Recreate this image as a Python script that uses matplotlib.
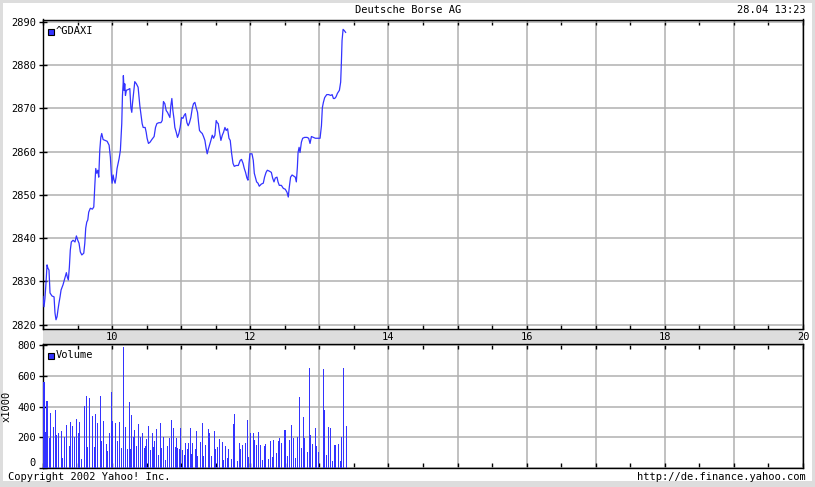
import matplotlib
matplotlib.use('Agg')
import matplotlib.pyplot as plt
import matplotlib.ticker as mticker
from matplotlib.patches import Rectangle
import numpy as np

W, H = 815, 487
BLUE = '#3333ff'
GRID = '#b0b0b0'
BAND = '#dddddd'
FONT = 'DejaVu Sans Mono'

# ^GDAXI intraday, minutes after 9:00 and index level
price_min = [0, 0.9, 1.7, 2.6, 3.5, 4.3, 5.2, 6.1, 7.8, 9.6, 10.4, 11.3, 12.2, 13.0, 13.9, 14.8,
             15.7, 17.4, 19.1, 20.3, 21.1, 22.0, 22.9, 23.7, 24.6, 26.1, 27.8, 29.0, 30.2, 31.3,
             32.4, 33.7, 35.4, 36.3, 37.1, 38.0, 38.9, 39.7, 41.1, 42.9, 44.1, 45.0, 45.8, 46.7,
             47.6, 48.4, 49.3, 50.2, 51.0, 52.2, 53.9, 55.7, 57.4, 58.5, 59.4, 60.0, 60.9, 61.7,
             62.6, 63.5, 64.3, 66.1, 67.2, 68.4, 69.0, 69.6, 69.8, 70.4, 71.0, 71.6, 72.4, 74.2,
             75.4, 76.3, 77.1, 77.7, 78.9, 79.7, 81.1, 82.6, 84.1, 85.2, 86.1, 87.0, 88.7, 89.6,
             90.4, 91.6, 93.0, 94.5, 96.5, 97.7, 98.9, 100.6, 102.4, 103.5, 104.6, 105.8, 107.0,
             108.1, 109.3, 110.2, 111.0, 111.9, 112.8, 113.7, 114.5, 115.7, 116.8, 118.0, 119.1,
             120.3, 121.5, 122.6, 123.7, 125.0, 126.1, 127.2, 128.4, 129.6, 130.7, 131.9, 133.0,
             134.2, 135.1, 135.9, 137.1, 138.3, 139.4, 140.6, 141.7, 142.6, 143.5, 144.6, 145.8,
             147.0, 148.1, 149.3, 150.4, 151.3, 152.2, 153.3, 154.5, 155.7, 156.8, 158.0, 159.1,
             160.3, 161.5, 162.6, 163.7, 165.0, 166.1, 167.8, 169.6, 171.3, 172.4, 173.7, 174.8,
             175.9, 177.1, 178.0, 178.9, 179.7, 181.5, 182.6, 183.5, 184.4, 185.5, 186.7, 187.8,
             189.6, 191.3, 192.4, 193.7, 194.8, 196.5, 198.3, 199.4, 200.6, 201.7, 203.2, 204.1,
             205.2, 207.0, 208.7, 210.4, 211.9, 213.0, 213.9, 215.0, 216.3, 218.0, 219.1, 220.0,
             220.9, 221.5, 222.4, 223.2, 224.4, 225.5, 227.2, 229.3, 230.7, 231.9, 233.1, 234.8,
             236.5, 238.9, 240.6, 241.8, 242.6, 243.5, 244.6, 246.4, 248.1, 249.9, 251.1, 252.2,
             253.3, 254.5, 255.7, 257.4, 258.5, 259.1, 259.7, 260.6, 261.7, 262.8]
price_val = [2826.5, 2824.1, 2826.1, 2829.6, 2833.8, 2833.0, 2832.6, 2827.3, 2826.6, 2826.4, 2822.7,
             2821.1, 2821.8, 2823.4, 2825.0, 2826.4, 2828.0, 2829.2, 2830.8, 2832.0, 2831.0, 2830.3,
             2833.3, 2837.2, 2839.1, 2839.5, 2839.1, 2840.5, 2839.5, 2838.8, 2836.8, 2836.1, 2836.5,
             2838.8, 2842.3, 2843.7, 2844.2, 2846.0, 2846.9, 2846.7, 2847.2, 2852.2, 2856.1, 2855.0,
             2855.7, 2854.1, 2860.3, 2863.3, 2864.2, 2862.8, 2862.6, 2862.4, 2861.5, 2858.7, 2854.6,
             2852.7, 2854.6, 2853.4, 2852.7, 2854.1, 2856.1, 2858.4, 2860.3, 2866.5, 2873.0, 2875.7,
             2877.6, 2874.2, 2875.7, 2873.0, 2874.2, 2874.4, 2874.6, 2870.2, 2869.1, 2871.1, 2874.2,
             2876.2, 2875.7, 2874.9, 2870.6, 2868.4, 2866.5, 2865.6, 2865.6, 2864.5, 2863.1, 2861.9,
             2862.2, 2862.8, 2863.5, 2865.6, 2866.5, 2866.7, 2866.7, 2867.2, 2871.6, 2871.1, 2869.5,
             2869.1, 2868.4, 2867.9, 2870.6, 2872.3, 2869.5, 2867.7, 2865.6, 2864.5, 2863.3, 2864.2,
             2865.6, 2867.9, 2867.7, 2868.4, 2868.8, 2866.7, 2866.0, 2866.7, 2867.9, 2870.0, 2871.1,
             2871.4, 2870.2, 2869.1, 2866.7, 2864.9, 2864.5, 2864.2, 2863.5, 2862.6, 2860.7, 2859.5,
             2860.5, 2861.5, 2862.6, 2863.8, 2863.1, 2863.8, 2867.2, 2866.7, 2866.5, 2864.5, 2862.6,
             2863.8, 2864.5, 2865.6, 2864.9, 2865.3, 2863.1, 2862.6, 2859.8, 2857.3, 2856.6, 2856.8,
             2856.8, 2858.0, 2858.2, 2857.3, 2856.1, 2855.2, 2853.9, 2853.4, 2857.3, 2859.5, 2859.5,
             2858.0, 2855.0, 2854.1, 2853.0, 2852.7, 2852.0, 2852.5, 2852.7, 2854.1, 2855.2, 2855.7,
             2855.5, 2855.2, 2853.9, 2853.0, 2853.9, 2854.1, 2853.0, 2852.2, 2852.2, 2851.5, 2851.3,
             2850.6, 2849.5, 2851.8, 2854.1, 2854.6, 2854.3, 2854.1, 2853.0, 2856.4, 2859.8, 2861.0,
             2859.8, 2862.2, 2863.1, 2863.3, 2863.3, 2863.1, 2861.9, 2863.5, 2863.3, 2863.1, 2863.1,
             2863.1, 2866.0, 2870.2, 2871.4, 2872.5, 2873.2, 2873.2, 2873.0, 2873.2, 2872.3, 2872.3,
             2872.7, 2873.5, 2874.2, 2876.1, 2880.4, 2885.7, 2888.3, 2888.0, 2887.6]

# volume (x1000), minutes after 9:00
vol_min = [0.9, 2.0, 3.5, 5.5, 6.4, 9.0, 10.7, 11.6, 13.3, 15.9, 16.8, 18.6, 20.3, 22.9, 23.8,
           25.5, 27.3, 29.0, 30.7, 31.6, 33.3, 35.9, 37.7, 38.6, 40.3, 42.9, 44.9, 45.5, 47.5,
           49.9, 50.7, 52.8, 55.4, 56.2, 58.0, 59.7, 60.6, 63.2, 64.6, 66.7, 68.4, 69.9, 71.3,
           73.1, 75.1, 76.0, 76.8, 78.3, 79.7, 81.2, 82.9, 84.7, 86.1, 87.8, 89.0, 89.9, 91.6,
           93.3, 94.8, 96.0, 97.1, 98.9, 100.0, 102.0, 102.9, 104.7, 106.4, 108.1, 109.6, 111.6,
           113.1, 114.8, 116.0, 117.1, 118.6, 119.7, 121.5, 122.6, 123.8, 125.5, 126.7, 127.8,
           129.0, 130.2, 132.2, 133.6,
           134.5, 136.9, 138.6, 139.5, 141.2, 143.8, 144.7, 146.4, 149.0, 149.9, 151.7, 153.4,
           156.0, 156.9, 158.6, 160.4, 161.2, 163.8, 165.6, 166.4, 169.1, 170.8, 171.7, 173.4,
           176.0, 177.8, 178.6, 180.4, 183.0, 183.9, 185.6, 187.3, 189.1, 190.8, 192.5, 193.4,
           196.0, 197.8, 199.5, 200.4, 203.0, 204.7, 205.6, 207.3, 210.0, 210.8, 212.6, 214.3,
           216.0, 217.8, 219.5, 221.3, 223.0, 224.7, 226.5, 227.4, 230.0, 231.7, 232.6, 234.3,
           236.9, 237.8, 239.5, 243.9, 244.7, 246.5, 248.2, 250.0, 251.7, 253.4, 254.3, 256.9,
           258.6, 259.5, 261.3, 263.9]
vol_val = [563, 237, 437, 198, 361, 265, 378, 215, 226, 243, 67, 202, 280, 143, 302,
           274, 202, 319, 230, 302, 59, 404, 469, 137, 456, 337, 137, 352, 296,
           469, 176, 306, 156, 113, 230, 493, 306, 293, 176, 300, 130, 791, 265,
           126, 430, 126, 345, 204, 250, 143, 285, 204, 228, 128, 146, 189, 274,
           119, 230, 139, 178, 256, 85, 291, 128, 200, 52, 146, 193, 311,
           263, 137, 193, 130, 122, 261, 117, 83, 165, 124, 161, 261,
           91, 165, 122, 243,
           78, 169, 293, 78, 150, 254, 228, 78, 241, 124, 137, 189,
           169, 52, 143, 65, 124, 59, 287, 352, 46, 163, 124, 150,
           163, 313, 72, 228, 228, 183, 150, 235, 150, 52, 143, 156,
           59, 176, 72, 183, 98, 176, 196, 163, 248, 248, 78, 183,
           280, 196, 65, 202, 463, 130, 332, 196, 104, 652, 215, 156,
           261, 143, 104, 645, 378, 85, 267, 261, 46, 150, 150, 156,
           46, 202, 652, 274]

price_ticks = [2820, 2830, 2840, 2850, 2860, 2870, 2880, 2890]
vol_ticks = [0, 200, 400, 600, 800]
hour_labels = [10, 12, 14, 16, 18, 20]

title = 'Deutsche Borse AG'
stamp = '28.04 13:23'
copyright_txt = 'Copyright 2002 Yahoo! Inc.'
url = 'http://de.finance.yahoo.com'


def fx(px):
    return px / W


def fy(py):
    # pixel row from top -> figure fraction
    return 1 - py / H


def style_axes(ax):
    ax.set_facecolor('white')
    for s in ax.spines.values():
        s.set_color('black')
        s.set_linewidth(1.0)
    ax.set_xlim(9, 20)
    ax.xaxis.set_major_locator(mticker.MultipleLocator(1))
    ax.xaxis.set_minor_locator(mticker.MultipleLocator(0.5))
    ax.grid(True, which='major', color=GRID, linewidth=1.1)
    ax.set_axisbelow(True)
    ax.tick_params(axis='x', which='both', direction='in', top=True, bottom=True,
                   length=3.5, width=1, color='black')
    ax.tick_params(axis='y', which='major', direction='inout', length=6, width=1,
                   labelsize=7.5, pad=2)


fig = plt.figure(figsize=(W / 100, H / 100), dpi=100)
fig.patch.set_facecolor(BAND)
fig.add_artist(Rectangle((fx(3), fy(481)), fx(809), 478 / H, transform=fig.transFigure,
                         facecolor='white', edgecolor='none', zorder=0))
# gray strip between panels
fig.add_artist(Rectangle((fx(43), fy(344)), fx(760), 15 / H, transform=fig.transFigure,
                         facecolor=BAND, edgecolor='none', zorder=0))

ax_p = fig.add_axes([fx(43), fy(329), fx(760), 309.5 / H])
ax_v = fig.add_axes([fx(43), fy(468), fx(760), 124 / H])

t_price = 9 + np.array(price_min) / 60.0
ax_p.plot(t_price, price_val, color=BLUE, linewidth=0.9, zorder=3)
ax_p.set_ylim(2818.96, 2890.58)
ax_p.set_yticks(price_ticks)
style_axes(ax_p)
ax_p.set_yticklabels([str(v) for v in price_ticks], fontfamily=FONT, fontsize=7.5)
ax_p.set_xticks(range(9, 21))
ax_p.set_xticklabels([str(h) if h in hour_labels else '' for h in range(9, 21)],
                     fontfamily=FONT, fontsize=7.5)
ax_p.tick_params(axis='x', which='major', pad=2.5, labelsize=7.5)

t_vol = 9 + np.array(vol_min) / 60.0
ax_v.bar(t_vol, vol_val, width=0.016, color=BLUE, linewidth=0, antialiased=False, zorder=3)
ax_v.set_ylim(0, 808)
ax_v.set_yticks(vol_ticks)
style_axes(ax_v)
ax_v.set_yticklabels([str(v) for v in vol_ticks], fontfamily=FONT, fontsize=7.5)
# the zero label sits just above the baseline
ax_v.get_yticklabels()[0].set_va('bottom')
ax_v.set_xticks(range(9, 21))
ax_v.set_xticklabels([])
ax_v.set_ylabel('x1000', fontfamily=FONT, fontsize=7.5, labelpad=4)

# legend squares
for ypix, name in [(31.5, '^GDAXI'), (355.5, 'Volume')]:
    fig.add_artist(Rectangle((fx(47.5), fy(ypix + 3)), fx(6), 6 / H, transform=fig.transFigure,
                             facecolor=BLUE, edgecolor='black', linewidth=0.8, zorder=5))
    fig.text(fx(56), fy(ypix), name, fontfamily=FONT, fontsize=7.5, va='center', ha='left')

fig.text(fx(408), fy(10), title, fontfamily=FONT, fontsize=7.5, ha='center', va='center')
fig.text(fx(806), fy(10), stamp, fontfamily=FONT, fontsize=7.5, ha='right', va='center')
fig.text(fx(8), fy(476.5), copyright_txt, fontfamily=FONT, fontsize=7.5, ha='left', va='center')
fig.text(fx(806), fy(476.5), url, fontfamily=FONT, fontsize=7.5, ha='right', va='center')

fig.savefig('out.png', dpi=100, facecolor=fig.get_facecolor())
